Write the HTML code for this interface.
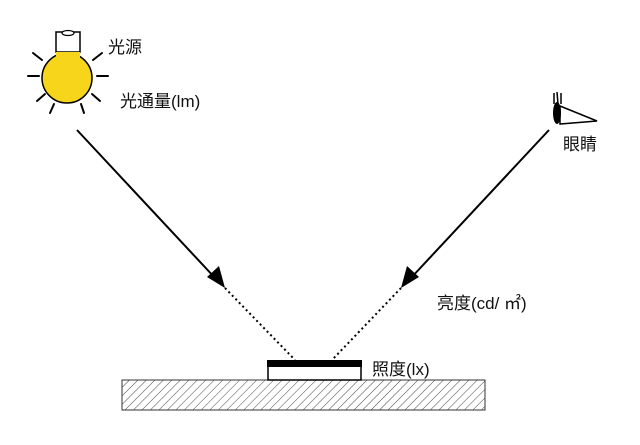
<!DOCTYPE html>
<html><head><meta charset="utf-8"><style>
body{margin:0;background:#fff;}
svg text{font-family:"Liberation Sans","Noto Sans CJK SC",sans-serif;font-size:17px;fill:#111;}
</style></head><body>
<svg width="640" height="440" viewBox="0 0 640 440" xmlns="http://www.w3.org/2000/svg">
<defs>
<pattern id="h" width="6" height="6" patternUnits="userSpaceOnUse" patternTransform="rotate(45)">
<line x1="0" y1="0" x2="0" y2="6" stroke="#333" stroke-width="0.9"/>
</pattern>
</defs>
<g stroke="#000" stroke-width="2" stroke-linecap="round">
<line x1="33" y1="53" x2="42" y2="60"/>
<line x1="102" y1="53" x2="93" y2="60"/>
<line x1="28" y1="76" x2="39" y2="76"/>
<line x1="97" y1="76" x2="108" y2="76"/>
<line x1="37" y1="101" x2="45" y2="94"/>
<line x1="100" y1="101" x2="92" y2="94"/>
<line x1="50" y1="113" x2="54" y2="104"/>
<line x1="84" y1="113" x2="81" y2="104"/>
</g>
<rect x="56" y="32" width="24" height="20" fill="#fff" stroke="#000" stroke-width="1.5"/>
<ellipse cx="68" cy="33" rx="6" ry="2.5" fill="#fff" stroke="#000" stroke-width="1.2"/>
<circle cx="67" cy="78" r="25" fill="#f7d51a" stroke="#000" stroke-width="1.5"/>
<path d="M56 52 L80 52 L80 58 Q67 54 56 58 Z" fill="#f7d51a"/>
<text x="108" y="53">光源</text>
<text x="120" y="107">光通量(lm)</text>
<g stroke="#000" stroke-width="1.5">
<line x1="554" y1="93" x2="554" y2="104"/>
<line x1="557" y1="92" x2="558" y2="104"/>
<line x1="561" y1="93" x2="561" y2="104"/>
</g>
<polygon points="560,106 597,121 560,124" fill="#fff" stroke="#000" stroke-width="1.5"/>
<ellipse cx="557" cy="113" rx="4" ry="11" fill="#000"/>
<text x="563" y="150">眼睛</text>
<line x1="77" y1="130" x2="216" y2="279" stroke="#000" stroke-width="2"/>
<polygon points="225,288 207,277 219,266" fill="#000"/>
<line x1="549" y1="130" x2="410" y2="279" stroke="#000" stroke-width="2"/>
<polygon points="401,288 407,266 419,277" fill="#000"/>
<line x1="225" y1="288" x2="295" y2="360" stroke="#000" stroke-width="2" stroke-dasharray="2,3"/>
<line x1="401" y1="288" x2="332" y2="360" stroke="#000" stroke-width="2" stroke-dasharray="2,3"/>
<text x="437" y="309">亮度(cd/ ㎡)</text>
<rect x="122" y="380" width="363" height="30" fill="url(#h)" stroke="#333" stroke-width="1"/>
<rect x="268" y="361" width="93" height="19" fill="#fff" stroke="#000" stroke-width="1.5"/>
<rect x="267" y="360" width="95" height="7" fill="#000"/>
<text x="372" y="375">照度(lx)</text>
</svg>
</body></html>
